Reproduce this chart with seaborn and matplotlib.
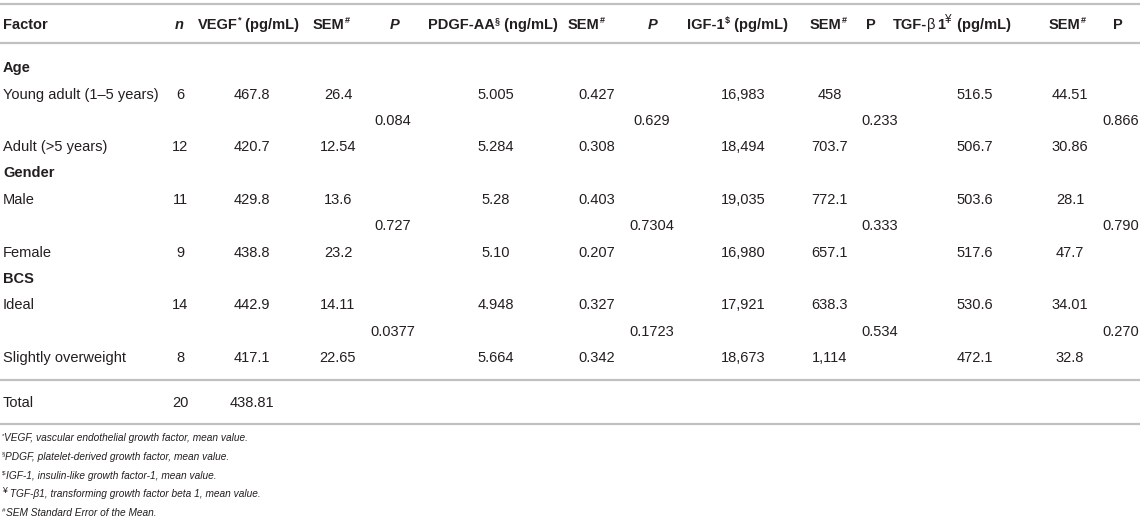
import numpy as np
import pandas as pd
import seaborn as sns
import matplotlib.pyplot as plt

# table content
groups = ['Age', 'Gender', 'BCS']
row_labels = ['Young adult (1–5 years)', 'Adult (>5 years)', 'Male', 'Female',
              'Ideal', 'Slightly overweight']
n_vals = ['6', '12', '11', '9', '14', '8']
vegf = ['467.8', '420.7', '429.8', '438.8', '442.9', '417.1']
vegf_sem = ['26.4', '12.54', '13.6', '23.2', '14.11', '22.65']
vegf_p = ['0.084', '0.727', '0.0377']
pdgf = ['5.005', '5.284', '5.28', '5.10', '4.948', '5.664']
pdgf_sem = ['0.427', '0.308', '0.403', '0.207', '0.327', '0.342']
pdgf_p = ['0.629', '0.7304', '0.1723']
igf = ['16,983', '18,494', '19,035', '16,980', '17,921', '18,673']
igf_sem = ['458', '703.7', '772.1', '657.1', '638.3', '1,114']
igf_p = ['0.233', '0.333', '0.534']
tgf = ['516.5', '506.7', '503.6', '517.6', '530.6', '472.1']
tgf_sem = ['44.51', '30.86', '28.1', '47.7', '34.01', '32.8']
tgf_p = ['0.866', '0.790', '0.270']
total_n = '20'
total_vegf = '438.81'

footnotes = [
    ('*', 'VEGF, vascular endothelial growth factor, mean value.'),
    ('§', 'PDGF, platelet-derived growth factor, mean value.'),
    ('$', 'IGF-1, insulin-like growth factor-1, mean value.'),
    ('¥', ' TGF-β1, transforming growth factor beta 1, mean value.'),
    ('#', 'SEM Standard Error of the Mean.'),
]

sns.set_theme(style='white')
plt.rcParams['font.family'] = ['Liberation Sans', 'DejaVu Sans']

TXT = '#231f20'
LINE = '#c0c0c0'
FS = 10.5

fig = plt.figure(figsize=(11.43, 5.28), dpi=100)
ax = fig.add_axes([0, 0, 1, 1])
ax.set_xlim(0, 1143)
ax.set_ylim(528, 0)
ax.axis('off')
renderer = fig.canvas.get_renderer()


def rich(x, yc, parts, size=FS, raise_=6):
    base = yc + 5
    for s, opts in parts:
        sup = opts.get('sup', False)
        scale = opts.get('scale', 0.62 if sup else 1.0)
        t = ax.text(x, base - raise_ if sup else base, s,
                    fontsize=size * scale,
                    fontweight=opts.get('w', 'normal'),
                    fontstyle=opts.get('st', 'normal'),
                    ha='left', va='baseline', color=TXT, parse_math=False)
        x += t.get_window_extent(renderer).width + opts.get('pad', 0)
    return x


def cell(cx, yc, s):
    ax.text(cx, yc + 5, s, fontsize=FS, ha='center', va='baseline',
            color=TXT, parse_math=False)


B = {'w': 'bold'}
BI = {'w': 'bold', 'st': 'italic'}
SUP = {'w': 'bold', 'sup': True}

# header
hy = 24
rich(3, hy, [('Factor', B)])
rich(175, hy, [('n', BI)])
rich(198, hy, [('VEGF', B), ('*', SUP), (' (pg/mL)', B)])
rich(313, hy, [('SEM', B), ('#', SUP)])
rich(390, hy, [('P', BI)])
rich(428, hy, [('PDGF-AA', B), ('§', SUP), (' (ng/mL)', B)])
rich(568, hy, [('SEM', B), ('#', SUP)])
rich(648, hy, [('P', BI)])
rich(687, hy, [('IGF-1', B), ('$', SUP), (' (pg/mL)', B)])
rich(810, hy, [('SEM', B), ('#', SUP)])
rich(866, hy, [('P', B)])
rich(893, hy, [('TGF-', B), ('β', {'pad': 1}), ('1', B),
               ('¥', {'sup': True, 'scale': 0.8, 'pad': 2}), (' (pg/mL)', B)])
rich(1049, hy, [('SEM', B), ('#', SUP)])
rich(1113, hy, [('P', B)])

ax.hlines([4, 43, 380, 424], 0, 1140, color=LINE, lw=1.6)

value_cols = [(180, n_vals), (252, vegf), (338, vegf_sem), (496, pdgf),
              (597, pdgf_sem), (743, igf), (830, igf_sem), (975, tgf),
              (1070, tgf_sem)]
p_cols = [(393, vegf_p), (652, pdgf_p), (880, igf_p), (1121, tgf_p)]

group_y = [67, 172, 278]
row_y = [94, 146, 199, 252, 304, 357]
p_y = [120, 225, 331]

for g, y in zip(groups, group_y):
    rich(3, y, [(g, B)])
for lab, y in zip(row_labels, row_y):
    rich(3, y, [(lab, {})])
for cx, vals in value_cols:
    for v, y in zip(vals, row_y):
        cell(cx, y, v)
for cx, vals in p_cols:
    for v, y in zip(vals, p_y):
        cell(cx, y, v)

# total row
rich(3, 402, [('Total', {})])
cell(180, 402, total_n)
cell(252, 402, total_vegf)

# footnotes
for i, (mark, txt) in enumerate(footnotes):
    y = 437 + i * 18.8
    sc = 0.85 if mark == '¥' else 0.62
    rich(2, y - 1, [(mark, {'sup': True, 'scale': sc}), (txt, {'st': 'italic'})],
         size=7.3, raise_=4)

fig.savefig('out.png', dpi=100)
